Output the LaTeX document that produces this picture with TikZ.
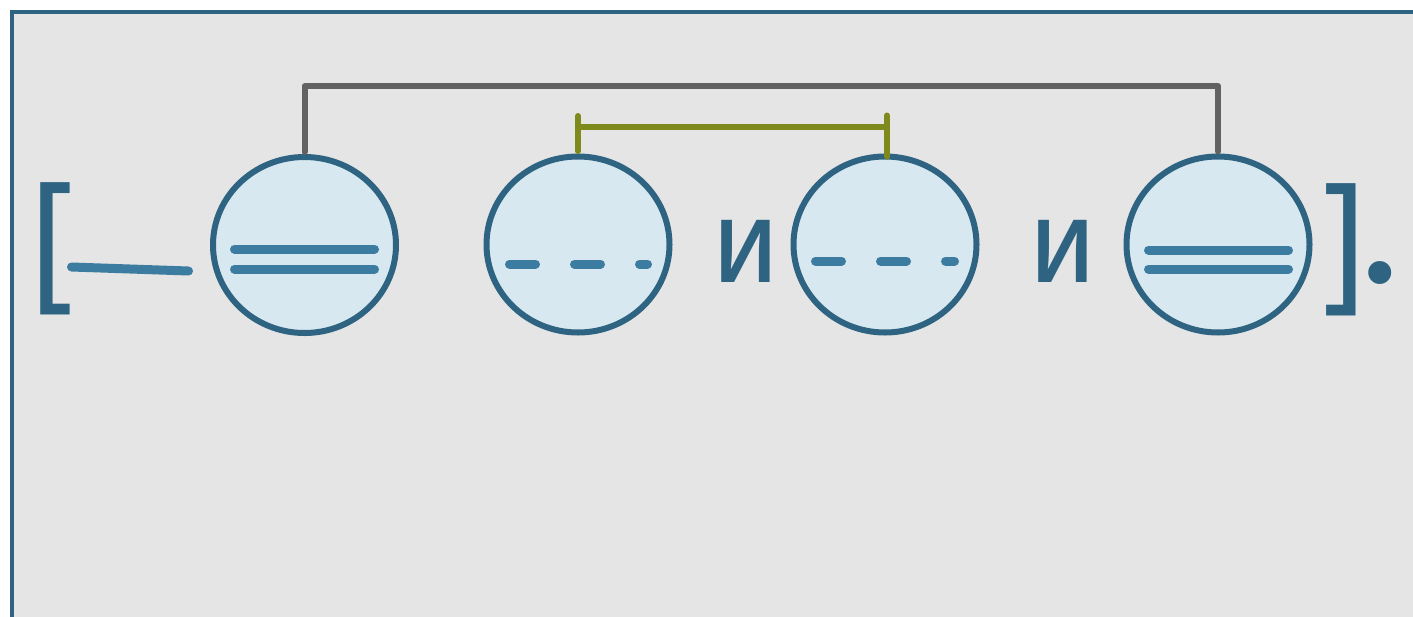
\documentclass[tikz,border=0pt]{standalone}
\usepackage{fontspec}
\setmainfont{Fira Sans}
\usetikzlibrary{shapes.geometric}
\definecolor{bg}{HTML}{E5E5E5}
\definecolor{framec}{HTML}{2E6482}
\definecolor{fillc}{HTML}{D8E8F0}
\definecolor{innerc}{HTML}{3B7CA0}
\definecolor{conng}{HTML}{626262}
\definecolor{olivec}{HTML}{7E8A1C}
\begin{document}
\begin{tikzpicture}[x=1pt,y=1pt,
  bubble/.style={ellipse, draw=framec, fill=fillc, line width=6pt, minimum width=183pt, minimum height=176pt, inner sep=0pt, outer sep=0pt},
  glyph/.style={text=framec, font=\fontsize{118}{120}\selectfont, inner sep=0pt},
  brack/.style={text=framec, font=\fontsize{142}{144}\selectfont, inner sep=0pt},
  dot/.style={text=framec, font=\fontsize{165}{168}\selectfont, inner sep=0pt},
  bar/.style={draw=innerc, line width=9pt, line cap=round},
  gconn/.style={draw=conng, line width=6pt, line cap=round, line join=round},
  oconn/.style={draw=olivec, line width=6pt, line cap=round}]
\fill[white] (0,0) rectangle (1413,-616);
\useasboundingbox (0,0) rectangle (1413,-616);
\begin{scope}
\clip (0,0) rectangle (1413,-616);
\draw[framec, line width=4pt, fill=bg] (12,-12) rectangle (1450,-650);
\end{scope}
\node[bubble] (c1) at (304.5,-245) {};
\node[bubble] (c2) at (578,-244.5) {};
\node[bubble] (c3) at (885,-244.5) {};
\node[bubble] (c4) at (1218,-244.5) {};
% double bars
\draw[bar] (234.5,-249) -- (374.5,-249);
\draw[bar] (234.5,-269) -- (374.5,-269);
\draw[bar] (1148.5,-250) -- (1288.5,-250);
\draw[bar] (1148.5,-269) -- (1288.5,-269);
% dashed bars
\draw[bar, dash pattern=on 26pt off 39pt] (509.5,-264) -- (647.5,-264);
\draw[bar, dash pattern=on 26pt off 39pt] (815.5,-261) -- (954.5,-261);
% dash
\coordinate (d1) at (71.5,-267);
\coordinate (d2) at (188.5,-271);
\draw[bar] (d1) -- (d2);
% connectors
\draw[gconn] ([yshift=5pt]c1.north) -- ++(0,66) -| ([yshift=5pt]c4.north);
\draw[oconn] ([yshift=5.5pt]c2.north) -- ++(0,35);
\draw[oconn] ([xshift=2pt,yshift=0pt]c3.north) -- ++(0,41);
\draw[oconn] ([yshift=30pt]c2.north) -- ([xshift=2pt,yshift=30pt]c3.north);
% text
\node[glyph] (i1) at (746,-251.5) {и};
\node[glyph] (i2) at (1063,-251.5) {и};
\node[brack] (lb) at (54,-249) {[};
\node[brack] (rb) at (1342,-249.5) {]};
\node[dot] (pt) at (1380.5,-273) {.};
\end{tikzpicture}
\end{document}
